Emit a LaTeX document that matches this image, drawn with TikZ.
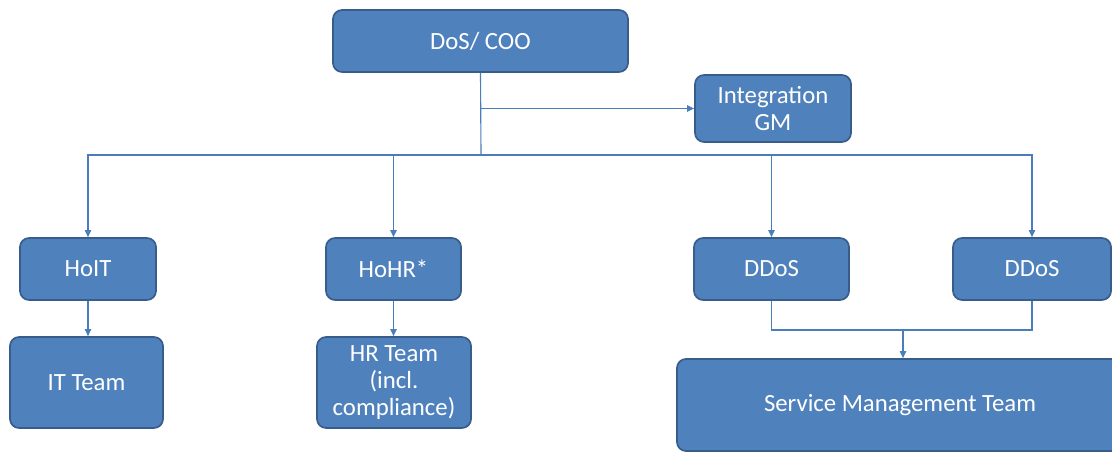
\documentclass[tikz,border=0pt]{standalone}
\usepackage{fontspec}
\setmainfont{Carlito}
\usetikzlibrary{arrows.meta}
\definecolor{boxfill}{HTML}{4F81BD}
\definecolor{boxline}{HTML}{385D8A}
\definecolor{wire}{HTML}{4A7EBB}
\tikzset{
  unit/.style={draw=boxline, fill=boxfill, line width=1.2pt, rounded corners=6.5pt,
    text=white, align=center, inner sep=0pt,
    font=\fontsize{17.6}{19.5}\selectfont},
  wireline/.style={draw=wire, line width=0.8pt},
  link/.style={wireline, -{Triangle[length=5pt,width=4.5pt]}},
}
\begin{document}
\begin{tikzpicture}[x=0.025cm,y=-0.025cm]
  \useasboundingbox (0,0) rectangle (1112,452);
  % top
  \node[unit, minimum width=7.375cm, minimum height=1.55cm] (dos) at (480.5,41) {DoS/ COO};
  \node[unit, minimum width=3.9cm, minimum height=1.675cm] (igm) at (773,108.5) {Integration\\GM};
  % heads
  \node[unit, minimum width=3.4cm, minimum height=1.55cm] (hoit) at (88,269) {HoIT};
  \node[unit, minimum width=3.375cm, minimum height=1.55cm] (hohr) at (393.5,269) {HoHR*};
  \node[unit, minimum width=3.875cm, minimum height=1.55cm] (ddosa) at (771.5,269) {DDoS};
  \node[unit, minimum width=3.95cm, minimum height=1.55cm] (ddosb) at (1032,269) {DDoS};
  % teams
  \node[unit, minimum width=3.825cm, minimum height=2.275cm] (itteam) at (86.5,382.5) {IT Team};
  \node[unit, minimum width=3.85cm, minimum height=2.275cm] (hrteam) at (394,382.5) {HR Team\\(incl.\\compliance)};
  \node[unit, minimum width=11.15cm, minimum height=2.3cm] (smt) at (900,405) {Service Management Team};
  % connectors
  \coordinate (bus) at (481,155);
  \coordinate (join) at (903,330);
  \draw[wireline] (dos.south) -- (bus);
  \draw[link] (dos.south |- igm.west) -- (igm.west);
  \draw[link] (bus) -| (hoit.north);
  \draw[link] (bus) -| (hohr.north);
  \draw[link] (bus) -| (ddosa.north);
  \draw[link] (bus) -| (ddosb.north);
  \draw[link] (hoit.south) -- (hoit.south |- itteam.north);
  \draw[link] (hohr.south) -- (hohr.south |- hrteam.north);
  \draw[wireline] (ddosa.south) |- (join);
  \draw[wireline] (ddosb.south) |- (join);
  \draw[link] (join) -- (join |- smt.north);
\end{tikzpicture}
\end{document}
